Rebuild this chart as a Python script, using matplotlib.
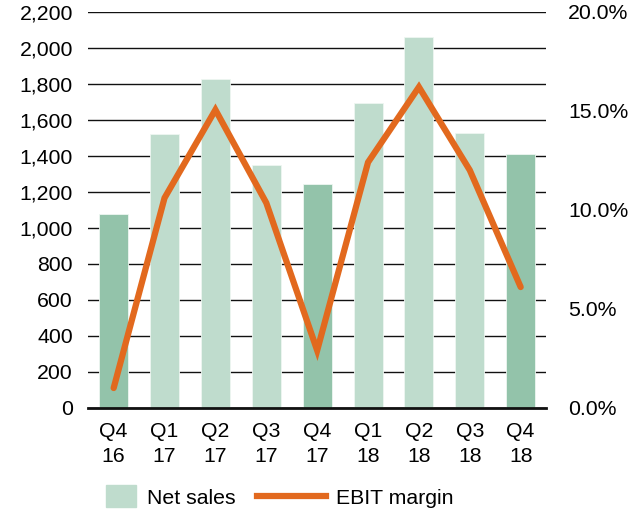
import matplotlib.pyplot as plt
from matplotlib.patches import Patch, Rectangle
from matplotlib.lines import Line2D
from matplotlib.legend_handler import HandlerPatch
from matplotlib.ticker import FuncFormatter
import numpy as np

plt.rcParams['font.family'] = ['Liberation Sans', 'DejaVu Sans']

# Data
quarters = ["Q4\n16", "Q1\n17", "Q2\n17", "Q3\n17", "Q4\n17", "Q1\n18", "Q2\n18", "Q3\n18", "Q4\n18"]
net_sales = [1078, 1522, 1828, 1350, 1244, 1694, 2061, 1528, 1411]
ebit_margin = [1.0, 10.6, 15.05, 10.35, 2.9, 12.4, 16.2, 12.0, 6.1]
q4_flags = [True, False, False, False, True, False, False, False, True]

light = "#bfdccd"
dark = "#93c3aa"
orange = "#e2691e"
fs = 15.3

fig = plt.figure(figsize=(6.44, 5.13), dpi=100)
ax = fig.add_axes([0.137, 0.205, 0.711, 0.772])
x = np.arange(len(quarters))
colors = [dark if f else light for f in q4_flags]
ax.bar(x, net_sales, width=0.57, color=colors, edgecolor="#eef6f1", linewidth=0.6, zorder=2)
ax.set_xlim(-0.5, len(quarters) - 0.5)
ax.set_ylim(0, 2200)
ax.set_yticks(np.arange(0, 2201, 200))
ax.yaxis.set_major_formatter(FuncFormatter(lambda v, p: f"{int(v):,}"))
ax.grid(axis="y", color="#111111", linewidth=1.0, zorder=1)
ax.set_axisbelow(True)
ax.set_xticks(x)
ax.set_xticklabels(quarters, linespacing=1.45)
for s in ["top", "left", "right"]:
    ax.spines[s].set_visible(False)
ax.spines["bottom"].set_linewidth(2)
ax.spines["bottom"].set_color("#111111")
ax.tick_params(axis="y", length=0, pad=11, labelsize=fs)
ax.tick_params(axis="x", length=0, pad=10, labelsize=fs)

ax2 = ax.twinx()
ax2.plot(x, ebit_margin, color=orange, linewidth=4.5, solid_capstyle="round",
         solid_joinstyle="miter", zorder=3)
ax2.set_ylim(0, 20)
ax2.set_yticks([0, 5, 10, 15, 20])
ax2.yaxis.set_major_formatter(FuncFormatter(lambda v, p: f"{v:.1f}%"))
for s in ["top", "left", "right", "bottom"]:
    ax2.spines[s].set_visible(False)
ax2.tick_params(axis="y", length=0, pad=16, labelsize=fs)


# square-ish patch sitting at the right end of the handle box
def small_box(legend, orig_handle, xdescent, ydescent, width, height, fontsize):
    w, h = 21.6, 15.8
    return Rectangle((width - xdescent - w, -ydescent + height / 2 - h / 2), w, h)


handles = [Patch(color=light, label="Net sales"),
           Line2D([0], [0], color=orange, linewidth=4.5, label="EBIT margin")]
fig.legend(handles=handles, loc="center left", bbox_to_anchor=(0.104, 0.029), ncol=2,
           frameon=False, fontsize=fs, handlelength=3.25, borderpad=0, borderaxespad=0,
           columnspacing=1.0, handletextpad=0.5,
           handler_map={Patch: HandlerPatch(patch_func=small_box)})

fig.savefig("out.png", dpi=100)
